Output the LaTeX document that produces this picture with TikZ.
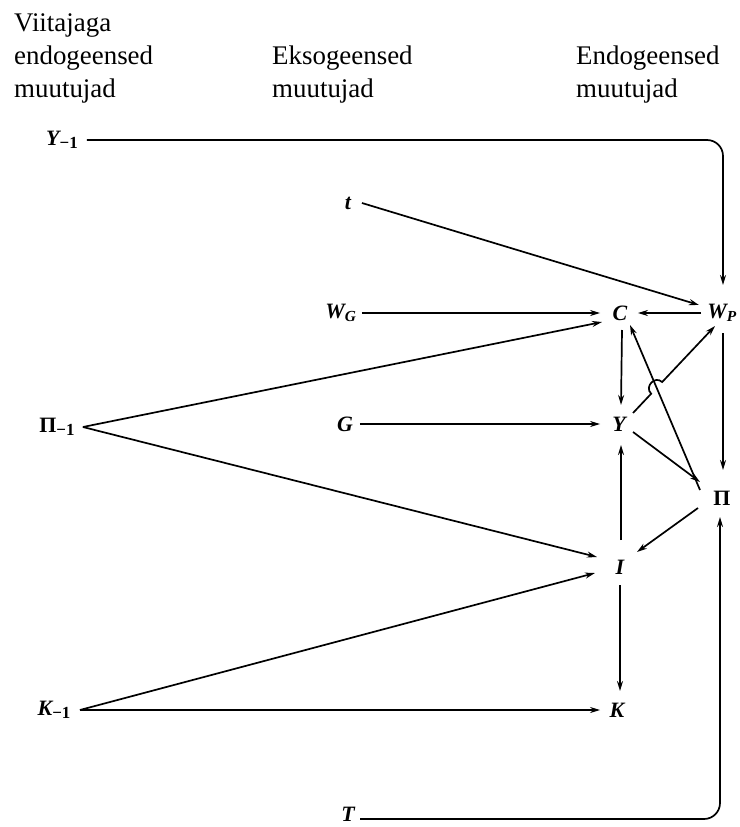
\documentclass[tikz,border=0pt]{standalone}
\usepackage{fontspec}
\setmainfont{Liberation Serif}
\usetikzlibrary{arrows.meta,calc}
\tikzset{
  var/.style={inner sep=1bp, font=\fontsize{22}{24}\selectfont\bfseries\itshape},
  arr/.style={line width=1.7bp, -{Stealth[length=10bp,width=6bp]}},
  head/.style={anchor=base west, align=left, inner sep=0pt,
               font=\fontsize{27}{33}\selectfont}
}
\newcommand{\lagsub}{\raisebox{-0.35ex}{\fontsize{17}{17}\selectfont\upshape\bfseries −1}}
\begin{document}
\begin{tikzpicture}[x=1bp,y=-1bp]
\useasboundingbox (0,0) rectangle (740,827);

% column headings (one node per line, baselines 33bp apart)
\node[head] (h1a) at (14,31) {Viitajaga};
\node[head] (h1b) at (14,64) {endogeensed};
\node[head] (h1c) at (14,97) {muutujad};
\node[head] (h2a) at (272,64) {Eksogeensed};
\node[head] (h2b) at (272,97) {muutujad};
\node[head] (h3a) at (576,64) {Endogeensed};
\node[head] (h3b) at (576,97) {muutujad};

% lagged endogenous variables
\node[var] (Ym1) at (62,140) {Y\lagsub};
\node[var] (Pim1) at (57,427) {\upshape\bfseries Π\lagsub};
\node[var] (Km1) at (54,710) {K\lagsub};

% exogenous variables
\node[var] (t) at (348,203) {t};
\node[var] (WG) at (341,313) {W\textsubscript{G}};
\node[var] (G) at (345,424) {G};
\node[var] (T) at (348,814) {T};

% endogenous variables
\node[var] (C) at (620,313) {C};
\node[var] (WP) at (722,313) {W\textsubscript{P}};
\node[var] (Y) at (619,424) {Y};
\node[var] (Pi) at (722,498) {\upshape\bfseries Π};
\node[var] (I) at (620,567) {I};
\node[var] (K) at (617,710) {K};

% long feedback lines with rounded corners
\draw[arr, rounded corners=16bp] ([xshift=25]Ym1.center) -| ([shift={(1,-28)}]WP.center);
\draw[arr, rounded corners=16bp] ([shift={(12,5)}]T.center) -| ([shift={(-2,19)}]Pi.center);

% exogenous inputs
\draw[arr] ([xshift=14]t.center) -- ([shift={(-23,-8)}]WP.center);
\draw[arr] ([xshift=21]WG.center) -- ([xshift=-20]C.center);
\draw[arr] ([xshift=15]G.center) -- ([xshift=-19]Y.center);

% lagged inputs
\draw[arr] ([xshift=26]Pim1.center) -- ([shift={(-18,9)}]C.center);
\draw[arr] ([xshift=26]Pim1.center) -- ([shift={(-23,-10)}]I.center);
\draw[arr] ([xshift=26]Km1.center) -- ([shift={(-25,6)}]I.center);
\draw[arr] ([xshift=26]Km1.center) -- ([xshift=-17]K.center);

% links among endogenous variables
\draw[arr] ([xshift=-21]WP.center) -- ([xshift=18]C.center);
\draw[arr] ([shift={(2,17)}]C.center) -- ([shift={(2,-19)}]Y.center);
\draw[arr] ([shift={(-22,-8)}]Pi.center) -- ([shift={(10,12)}]C.center);
\draw[arr] ([shift={(14,8)}]Y.center) -- ([shift={(-22,-16)}]Pi.center);
\draw[arr] ([shift={(1,20)}]WP.center) -- ([shift={(1,-28)}]Pi.center);
\draw[arr] ([shift={(-24,10)}]Pi.center) -- ([shift={(17,-15)}]I.center);
\draw[arr] ([shift={(1,-27)}]I.center) -- ([shift={(2,21)}]Y.center);
\draw[arr] ([shift={(0,18)}]I.center) -- ([shift={(3,-19)}]K.center);

% Y -> W_P hops over the Pi -> C line
\coordinate (ya) at ([shift={(14,-11)}]Y.center);
\coordinate (wb) at ([shift={(-7,13)}]WP.center);
\coordinate (pa) at ([shift={(-22,-8)}]Pi.center);
\coordinate (cb) at ([shift={(10,12)}]C.center);
\coordinate (hx) at (intersection of ya--wb and pa--cb);
\draw[arr] (ya) -- ($(hx)!8bp!(ya)$) to[out=136,in=136,looseness=1.6] ($(hx)!8bp!(wb)$) -- (wb);
\end{tikzpicture}
\end{document}
